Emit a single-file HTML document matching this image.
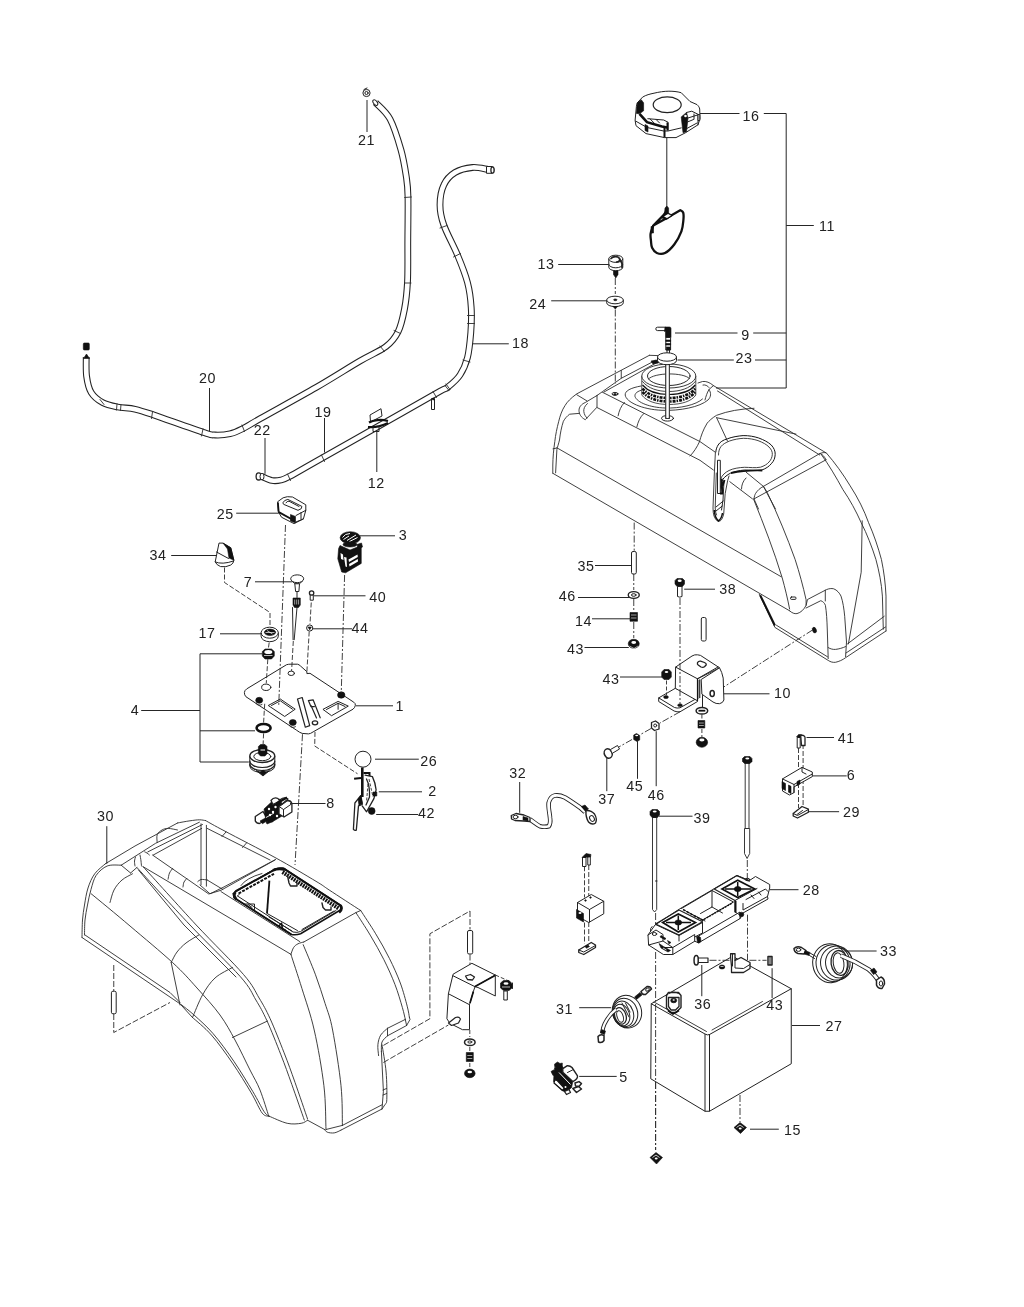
<!DOCTYPE html>
<html lang="en"><head><meta charset="utf-8"><title>Parts diagram</title>
<style>
html,body{margin:0;padding:0;background:#fff;}
body{width:1024px;height:1307px;overflow:hidden;}
svg{display:block;will-change:transform;}
.l{fill:none;stroke:#222;stroke-width:1;stroke-linecap:round;stroke-linejoin:round;}
.t{fill:none;stroke:#2b2b2b;stroke-width:.9;stroke-linecap:round;stroke-linejoin:round;}
.d{fill:none;stroke:#2b2b2b;stroke-width:.9;stroke-dasharray:7 2 2 2;}
.k{fill:#111;stroke:#111;stroke-width:.6;}
.w{fill:#fff;stroke:#222;stroke-width:1;stroke-linejoin:round;}
.ld{fill:none;stroke:#262626;stroke-width:1;}
text{font-family:"Liberation Sans",sans-serif;font-size:14.3px;letter-spacing:.55px;fill:#222;}
</style></head><body>
<svg width="1024" height="1307" viewBox="0 0 1024 1307">
<!-- 10_hoses.svg -->
<g id="hoses">
<path d="M375.5 102.5C377.9 105.2 385.8 111.1 390.0 119.0C394.2 126.9 398.2 140.2 401.0 150.0C403.8 159.8 405.3 170.2 406.5 178.0C407.7 185.8 407.8 186.7 408.0 197.0C408.2 207.3 407.9 225.8 407.8 240.0C407.7 254.2 408.1 270.5 407.5 282.0C406.9 293.5 406.1 300.7 404.5 309.0C402.9 317.3 401.1 325.8 398.0 332.0C394.9 338.2 392.3 341.7 386.0 346.5C379.7 351.3 371.7 354.2 360.0 361.0C348.3 367.8 332.7 377.9 316.0 387.5C299.3 397.1 272.2 411.9 260.0 418.8C247.8 425.7 247.5 426.3 242.5 428.8C237.5 431.3 234.6 432.8 230.0 433.8C225.4 434.8 219.4 435.2 215.0 435.0C210.6 434.8 214.0 435.8 203.8 432.5C193.5 429.2 165.2 418.9 153.8 415.0C142.3 411.1 141.0 410.6 135.0 409.2C129.0 407.9 122.9 408.1 117.5 407.0C112.1 405.9 106.9 404.9 102.5 402.5C98.1 400.1 93.9 396.9 91.2 392.5C88.6 388.1 87.4 382.2 86.6 376.2C85.8 370.3 86.3 360.2 86.2 357.0" fill="none" stroke="#222" stroke-width="6.8" stroke-linecap="butt"/><path d="M375.5 102.5C377.9 105.2 385.8 111.1 390.0 119.0C394.2 126.9 398.2 140.2 401.0 150.0C403.8 159.8 405.3 170.2 406.5 178.0C407.7 185.8 407.8 186.7 408.0 197.0C408.2 207.3 407.9 225.8 407.8 240.0C407.7 254.2 408.1 270.5 407.5 282.0C406.9 293.5 406.1 300.7 404.5 309.0C402.9 317.3 401.1 325.8 398.0 332.0C394.9 338.2 392.3 341.7 386.0 346.5C379.7 351.3 371.7 354.2 360.0 361.0C348.3 367.8 332.7 377.9 316.0 387.5C299.3 397.1 272.2 411.9 260.0 418.8C247.8 425.7 247.5 426.3 242.5 428.8C237.5 431.3 234.6 432.8 230.0 433.8C225.4 434.8 219.4 435.2 215.0 435.0C210.6 434.8 214.0 435.8 203.8 432.5C193.5 429.2 165.2 418.9 153.8 415.0C142.3 411.1 141.0 410.6 135.0 409.2C129.0 407.9 122.9 408.1 117.5 407.0C112.1 405.9 106.9 404.9 102.5 402.5C98.1 400.1 93.9 396.9 91.2 392.5C88.6 388.1 87.4 382.2 86.6 376.2C85.8 370.3 86.3 360.2 86.2 357.0" fill="none" stroke="#fff" stroke-width="4.7" stroke-linecap="butt"/>
<path d="M488.0 169.5C485.4 169.2 478.0 167.0 472.5 167.5C467.0 168.0 459.8 169.6 455.0 172.5C450.2 175.4 446.2 179.6 443.8 185.0C441.2 190.4 440.0 198.3 440.0 205.0C440.0 211.7 440.8 216.7 443.8 225.0C446.7 233.3 453.5 245.4 457.5 255.0C461.5 264.6 465.2 273.8 467.5 282.5C469.8 291.2 470.7 299.2 471.2 307.5C471.8 315.8 471.4 324.2 470.8 332.5C470.1 340.8 469.3 350.4 467.5 357.5C465.7 364.6 463.2 370.1 460.0 375.0C456.8 379.9 451.3 384.3 448.0 387.0C444.7 389.7 448.0 386.8 440.0 391.2C432.0 395.8 420.7 402.3 400.0 414.0C379.3 425.7 334.3 451.1 316.0 461.5C297.7 471.9 295.8 473.2 290.0 476.2C284.2 479.3 284.0 479.3 281.0 480.0C278.0 480.7 275.2 481.1 272.0 480.5C268.8 479.9 263.7 477.2 262.0 476.5" fill="none" stroke="#222" stroke-width="6.8" stroke-linecap="butt"/><path d="M488.0 169.5C485.4 169.2 478.0 167.0 472.5 167.5C467.0 168.0 459.8 169.6 455.0 172.5C450.2 175.4 446.2 179.6 443.8 185.0C441.2 190.4 440.0 198.3 440.0 205.0C440.0 211.7 440.8 216.7 443.8 225.0C446.7 233.3 453.5 245.4 457.5 255.0C461.5 264.6 465.2 273.8 467.5 282.5C469.8 291.2 470.7 299.2 471.2 307.5C471.8 315.8 471.4 324.2 470.8 332.5C470.1 340.8 469.3 350.4 467.5 357.5C465.7 364.6 463.2 370.1 460.0 375.0C456.8 379.9 451.3 384.3 448.0 387.0C444.7 389.7 448.0 386.8 440.0 391.2C432.0 395.8 420.7 402.3 400.0 414.0C379.3 425.7 334.3 451.1 316.0 461.5C297.7 471.9 295.8 473.2 290.0 476.2C284.2 479.3 284.0 479.3 281.0 480.0C278.0 480.7 275.2 481.1 272.0 480.5C268.8 479.9 263.7 477.2 262.0 476.5" fill="none" stroke="#fff" stroke-width="4.7" stroke-linecap="butt"/>
<path class="t" d="M404.6 197.5L411.4 197.0M404.4 283.0L411.0 283.0M394.0 330.5L400.5 333.5M380.0 346.0L384.5 351.5M440.0 228.0L447.0 225.5M453.5 257.0L460.5 253.5M467.5 315.5L474.5 315.5M467.5 323.5L474.5 323.5M463.0 360.0L470.0 362.0M445.0 385.5L449.0 390.5M242.0 425.0L244.5 431.5M203.0 429.0L201.5 436.0M152.5 412.0L151.5 418.5M117.0 404.0L116.5 410.0M121.0 404.5L120.5 410.5M100.0 399.5L104.0 404.5M321.5 455.0L324.5 461.5M287.5 474.0L290.5 480.5M433.0 391.5L436.5 397.5M446.0 384.0L450.0 389.5"/>
<ellipse cx="375.3" cy="102.6" rx="1.8" ry="3.2" transform="rotate(-40 375.3 102.6)" class="w"/>
<circle cx="366.5" cy="93" r="3.6" class="w"/><circle cx="366.5" cy="93" r="1.6" class="l"/><path class="l" d="M364 89.5l3-1.5"/>
<path class="w" d="M486.5 166.5h5.5a2 3.4 0 0 1 0 6.8h-5.5z"/><ellipse cx="492.5" cy="170" rx="1.6" ry="3.2" class="w" style="stroke-width:1.3"/>
<rect x="83.3" y="343" width="6" height="7" rx="1" class="k"/><path class="k" d="M83.5 358.5l3-4.5 3 4.5z"/>
<ellipse cx="258.7" cy="476.4" rx="2.6" ry="3.6" class="w" style="stroke-width:1.3"/><ellipse cx="262" cy="476.6" rx="2" ry="3.3" class="w"/>
<path class="w" d="M370 415l11-6.3 1 7.3-11.5 6z"/>
<path d="M369 422.5c4-2.5 12-3.5 19-1.5M368 427c6 .5 14-1 20-4" fill="none" stroke="#111" stroke-width="2.2"/>
<path class="l" d="M373 427v4.5h6v-5"/>
<path class="w" d="M431.5 398.5v11h3v-11z"/><circle cx="433.2" cy="399" r="1" class="k"/>
</g>
<!-- 20_cap.svg -->
<g id="cap16">
<path class="w" d="M637.3 102.800L642.600 97.100C646 95 650 94 654 93.200C659 92 664 91.200 668.900 91.200C673 91.200 677 91.500 681.200 92.700L690 101.500L697 104.600C698.500 106 699.500 107.500 699.700 109L700 118.700L698 124.800L685.600 132.700L676 137.600H664.500L646 133.600L636 125.700L635.100 120.400L636.400 106.400z"/>
<path class="l" d="M635.500 121L647 127.500L663.700 131H668L681.200 127.900M685 129.500L697 123"/>
<ellipse cx="667.200" cy="104.800" rx="14" ry="7.900" class="l" style="stroke-width:1.200"/>
<path class="k" d="M637.300 102.800L641.300 99.800L643.600 102.800V110.800L639.500 113.800L636.400 113.400z"/>
<path d="M639.500 113.800L647 122.200L662 126.600L667.200 127.500" fill="none" stroke="#111" stroke-width="2.600"/>
<path class="l" d="M647.800 118.700L663.700 120L668 122.200V130.100M650 118.900l4 4M656 119.400l3.500 3.500"/>
<path d="M664.500 127v10.500M667.500 122.500v8" fill="none" stroke="#111" stroke-width="2"/>
<path class="k" d="M645 124.500l3 1.500v6l-3-1.500z"/>
<path class="k" d="M681.200 116.900L686.500 112.500L688 118L686.500 131.800L683 132.700z"/>
<path class="l" d="M686.500 112.500L691.800 111.200L698 114.300V124.800M688 118L697.500 115M687.500 122l6-2.500M694 114v5"/>
<circle cx="685.500" cy="116" r="1.300" fill="#fff"/>
<path class="w" d="M698 114.500h1.800v6h-1.800z"/>
<path class="ld" d="M666.800 137.500V208"/>
<!-- gasket -->
<path d="M653.3 225.5C652.8 226.9 651.0 231.1 650.6 233.7C650.2 236.3 650.8 238.7 651.0 241.0C651.2 243.3 651.1 245.7 652.1 247.7C653.1 249.7 654.6 252.1 656.8 253.0C658.9 253.9 662.1 254.5 665.0 253.0C667.9 251.5 671.7 247.8 674.4 244.2C677.1 240.6 679.9 235.3 681.4 231.3C682.9 227.3 683.1 223.1 683.4 220.0C683.7 216.9 683.7 214.2 683.2 212.6C682.7 211.0 680.7 210.6 680.2 210.2L672 214.900L666 218.500L653.300 225.500L663.800 214.900L666 211.500" fill="none" stroke="#111" stroke-width="2.300" stroke-linejoin="round"/>
<path class="k" d="M665 208l1.800-2 1.800 2v5l4 2.500-6 4-5-1.500 3-5z"/>
<path d="M664 216.500l4-2.500 3 1.500-4 2.500z" fill="#fff"/>
<path class="k" d="M651 226.500h2.500v6.500h-2.500z"/>
</g>
<g id="p13">
<path class="w" d="M608.800 258.800v8.400a7 3.500 0 0 0 14 0v-8.400z"/>
<ellipse cx="615.800" cy="258.800" rx="7" ry="3.600" class="w"/>
<path d="M611 258.500c2-2.500 7-2.500 8.500 0c1 2-1 3.500-3 3.500M619.500 258.500l2.500 5v4" class="l" style="stroke-width:1.700"/>
<path class="l" d="M608.800 264.500a7 3.300 0 0 0 14 0"/>
<path class="k" d="M613.500 271h4.500v3.500l-2.200 3.500-2.300-3.500z"/>
</g>
<g id="p24">
<path class="w" d="M606.700 300v2.800a8.300 3.800 0 0 0 16.600 0v-2.800z"/>
<ellipse cx="615" cy="300" rx="8.300" ry="3.800" class="w"/>
<ellipse cx="615.300" cy="299.800" rx="1.700" ry=".9" class="k"/>
<path class="k" d="M613 306.500h4.500l-2.200 2.500z"/>
<path class="d" d="M615.300 278v16M615.300 309.500V384"/>
</g>
<g id="p9">
<path class="w" d="M657.500 327.200h8v3.400h-8a1.700 1.700 0 0 1 0-3.400z"/>
<path class="k" d="M665 327h4.500a1.500 1.500 0 0 1 1.500 1.500v9h-5.500v-6h-1z"/>
<path class="w" d="M665.800 337.500h4.800v12.500h-4.800z"/>
<path class="k" d="M665.800 340h4.800v1.500h-4.800zM665.800 343.500h4.800v1.500h-4.800zM666.300 347h3.800v3h-3.800z"/>
<path class="l" d="M667 350v5.500M669.500 350v5.500"/>
</g>

<!-- 30_tank.svg -->
<g id="tank">
<!-- left end / ridge -->
<path class="t" d="M649.400 355.300L576.700 393.900C571 398 567 402 565 405.600C562 410 560 416 558.750 421.250C557 428 555.500 435 554.800 441.600C553.500 450 552.900 458 552.800 465V473.400"/>
<path class="t" d="M649.400 355.300L658 355.600"/>
<path class="t" d="M655.600 360.300L621.250 378.300V370.500M621.250 378.300L602.500 391.600L597 395.500"/>
<path class="t" d="M656.400 362.800L604 392"/>
<path class="t" d="M597 395.500V407.200L585.300 419.700C581 417.500 579 414 579 410.300C579 407 581.500 404 585.300 402.500L597 395.500M586.900 400.900L576.700 394.700"/>
<path class="t" d="M587.500 403.500C584.500 406 583.500 409 583.800 411.500C584.200 414.500 585.500 416.500 587 418"/>
<path class="t" d="M579 413.400L569.700 414.200C567 416 565 418.500 563.400 421.250C561.500 427 560.300 433 559.500 440C558.500 444 557.500 447 556.900 449.400L555.600 472.800"/>
<path class="t" d="M553 448.800L556.900 448"/>
<!-- belt + bottom -->
<path class="t" d="M556.900 447.800L781.300 576.800"/>
<path class="t" d="M553 473.400L789.600 610.800"/>
<!-- top surface long lines -->
<path class="t" d="M602.500 392.300L700 441.600L715 452"/>
<path class="t" d="M597 407.500L700 460.300L713.400 470"/>
<path class="t" d="M624.400 402.500C621 406 619 411 618.100 415.800M643.900 413.400C640 417 638 422 636.900 426.700"/>
<ellipse cx="615" cy="393.900" rx="3" ry="1.500" class="t" style="stroke:#111"/>
<ellipse cx="615" cy="394.300" rx="1.400" ry=".7" class="k"/>
<!-- filler neck flange rings -->
<path class="t" d="M641 386C630 388 625 391 625.200 395C626 402 642 409.500 662 410.300C680 411 700 407 708 400C711 397 711.500 393 709 389.500"/>
<path class="t" d="M644 389.500C637 391 634.500 393.500 635 396.500C637 402.500 650 407.500 665 408C680 408.500 696 405 702.500 399"/>
<path class="t" d="M698 383L702.500 381.500C706 381 710 382.500 713.400 385.600L709 389.500C707 393 706 396 705 400"/>
<path class="t" d="M703 385C705 384.500 707.500 385.500 709 387.500"/>
<!-- neck -->
<path class="w" style="stroke-width:.8;stroke:#222" d="M641.800 376V395C646 401 656 404.500 668.800 404.500C682 404.500 692 401 695.800 395V376z"/>
<path d="M642.500 388.500C648 395 658 398 668.800 398C680 398 690 395 695.300 388.500M642.500 392C648 398.500 658 401.500 668.800 401.500C680 401.500 690 398.500 695.300 392" fill="none" stroke="#111" stroke-width="2.600" stroke-dasharray="3 1 1.500 1"/>
<path d="M642.500 385C648 391.500 658 394.500 668.800 394.500C680 394.500 690 391.500 695.300 385" fill="none" stroke="#111" stroke-width="1.200"/>
<ellipse cx="668.800" cy="376" rx="27" ry="12" class="w" style="stroke-width:.9"/>
<ellipse cx="668.800" cy="376" rx="21.300" ry="9.500" class="t" style="stroke:#111"/>
<path class="t" d="M648.500 379C654 372.500 683 372 689.500 378.500"/>
<path class="t" d="M642.500 381.500C648 388.500 658 391.500 668.800 391.500C680 391.500 690 388.500 695.300 381.500"/>
<!-- rod + grommet 23 -->
<path class="w" style="stroke-width:.9" d="M665.800 363V418.500H669.300V363z"/>
<ellipse cx="667.500" cy="418.300" rx="6" ry="2.800" class="t" style="stroke:#111"/>
<path class="w" d="M665.800 364V417.500H669.300V364z" style="stroke:none"/>
<path class="l" d="M665.800 363V418.500M669.300 363V418.500" style="stroke-width:.9"/>
<path class="w" d="M657.500 357v3.500a9.500 4.200 0 0 0 19 0V357z"/>
<ellipse cx="667" cy="357" rx="9.500" ry="4.200" class="w"/>
<path class="k" d="M651 361l6-1 1.500 3-5.500 1z"/>
<!-- back right top edge -->
<path class="t" d="M713.400 385.600L826 452.800M717.500 391L819.700 455"/>
<!-- saddle curve -->
<path class="t" d="M754 408.300C740 409 728 411 716.600 415.300C712 418 709 421 707.200 423.100C703 430 701 436 699.400 441.900C697 447 694 452 690 456"/>
<path class="t" d="M716.600 417.700L796 434.100M716.600 417.700L727.500 441.100"/>
<!-- cup recess -->
<path class="t" style="stroke:#111;stroke-width:1" d="M715.800 452C716 449 717 447 718.100 445C720 442 723 440 727.500 438.750C732 437 738 436 743.100 435.600C749 435.500 754 436.500 758.750 438C764 440 768 442 771.250 445C774 448 775.300 451 775.200 454.400C775 458 774 461 771.250 463.750C769 466.500 766 468.500 761.900 470C756 471 750 470 744.700 470C739 470.500 734 471.500 730.600 473.100C727 475 724.500 477 722.800 479.400C721 483 720 488 719.700 493.400"/>
<path class="t" d="M718.500 455C718.500 451 719.500 448.500 721 446.500C723 444 726 442.500 729.500 441C734 439.500 739 438.500 743.500 438.300C749 438.300 754 439.300 758 440.600C763 442.500 766.500 444.500 769 447C771.500 449.500 772.500 452 772.300 454.600C772 457.500 771 460 769 462C767 464.500 764 466 760.500 467.200C755 468.200 750 467.300 744.500 467.300C739 467.500 733 468.500 729 470.500C725 472.500 722.500 475 721 478"/>
<!-- hook below cup -->
<path class="t" d="M715.400 452.500L714.400 472L713 508Q713 513 714 516Q715.500 520.500 718.300 521.300Q720.500 521.300 721.700 519.400Q723 517 723.700 514L725.200 493.500L727.600 480.800L729 476"/>
<path class="t" d="M716.300 473L715.200 508Q715.500 513 716.500 515"/>
<path class="w" style="stroke-width:1" d="M717.500 460.300H720.300V493.500H717.500z"/>
<path d="M721.500 478.500L722.300 493.500M720 493.500H723M722.500 486L724.500 480" fill="none" stroke="#111" stroke-width="2"/>
<path class="t" style="stroke:#111" d="M724 481L723 500L721.500 510M716 507L723.300 501M716 511L722.300 506"/>
<path d="M731 473Q745 470 762.300 470.500" fill="none" stroke="#111" stroke-width="1.800"/>
<path d="M714.300 510Q714.500 517 718.300 521Q721.500 519 722.500 513" fill="none" stroke="#111" stroke-width="1.500"/>
<!-- front right shoulder -->
<path class="t" d="M763.400 486.400L819.700 453.600M754 498.900L826 459.800"/>
<path class="t" d="M754 498.900C754.300 496 755 494.500 755.600 493.400C757.500 490.500 760 488 763.400 486.400"/>
<path class="t" d="M729.800 481.700L752.500 498.900M746.250 472.300L763.400 486.400M741.500 489C741.500 485 743 481 746 478"/>
<!-- right outer curves -->
<path class="t" d="M819.700 453.600C822 452.500 824.500 452.300 826.300 452.900C835 463 843 474 850.200 485.900C858 498 864 510 868.600 522.700C874 535 878 547 881.400 559.400C884 572 885.500 584 886 596.100V631"/>
<path class="t" d="M820.800 453.800C829 465 836 477 842.900 489.600C850 500 856 511 861.200 522.700C867 534 872 547 875.900 559.400C879 571 881.500 583 882.400 596.100L883.300 629.200"/>
<path class="t" d="M826 459.800C824.500 456.500 822.500 454.500 820.800 453.800"/>
<!-- front-left edge going down -->
<path class="t" d="M753.800 499.700C764 525 774 551 782.200 577.800C785 588 787.500 598 789.600 609"/>
<path class="t" d="M763.400 486.400C765 488.500 766.500 491 767.600 493.300C778 515 787 537 795.100 559.400C799.500 573 803 586 806.100 599.800V605.300"/>
<path class="t" d="M754 498.900L758.500 509M763.400 486.400L775.500 509"/>
<!-- bottom front -->
<path class="t" d="M789.600 610.800C792 613 794.500 614 797 613.600C801 612.500 804 609.500 806.100 605.300L807.500 599.500L826.300 589.700C829 588.500 831.500 588.300 833.700 588.800C837 590 839.500 593 841 596.100C843 602 844 609 844.700 616.300L846.500 642L845.600 656.700"/>
<path class="t" d="M806.100 608L820.800 600.700C823 601.500 824.500 603 825.400 605.300C826.500 612 827 620 827.300 630L828.200 658.600"/>
<path class="t" d="M825.300 590.200V601"/>
<path class="t" d="M759.300 594.300L774.900 627.400L828.200 660.400C830.500 662 833 662.600 835.500 662.300C839 661.500 842.500 660 845.600 657.700L886 631"/>
<path class="t" d="M776.500 625.300L827.500 656.800M847.500 643.900L884.200 616.300M846 653L885.500 627"/>
<path d="M760.200 595.200L774.900 625.500" fill="none" stroke="#111" stroke-width="2"/>
<path class="t" d="M862.200 520.800L861.200 572.200L848.400 643.900"/>
<path class="t" d="M828.200 647.600C830.500 649 833 649.600 835.500 649.400C839 649 842.500 648 845.600 646.600"/>
<rect x="790.500" y="597" width="5.500" height="2.400" rx="1" class="t" style="stroke:#111"/>
<ellipse cx="814.400" cy="630.100" rx="1.900" ry="2.900" class="k" transform="rotate(-20 814.400 630.100)"/>
</g>

<!-- 40_plate.svg -->
<g id="plate1">
<path class="w" d="M246.700 688.900L286.600 664.700Q288.500 664.200 290 664.200H297.500Q299 664.500 300.500 666L306.900 671.700V673.600L310 673.300L353.750 702.200Q355.800 703.500 355.300 705.500Q355 707.500 353 709.200L313.100 731.900Q310.500 733.800 308.400 733.900L302.200 733.400Q299.500 732.500 296.700 730.300L245.900 696.700Q244.300 695 244.400 692.500Q244.500 690.500 246.700 688.900z"/>
<ellipse cx="266.250" cy="687.300" rx="4.600" ry="3.200" class="l"/>
<ellipse cx="291.250" cy="673.300" rx="3.200" ry="2.200" class="l"/>
<path class="l" d="M268.600 705.300L280.300 699L295.200 709.200L285 716.250zM271.500 705.500L280.300 700.800L292.500 709.200"/>
<path class="l" d="M323.300 709.200L338.100 701.400L348.300 706.100L331.900 715.500zM326.500 709.500L338.100 703.300L345 706.500M338.100 703.300v6"/>
<path class="l" d="M297.500 699L302.200 697.500L309.700 725.600L305.300 727.200z" style="stroke-width:1.200"/>
<path class="l" d="M308.400 700.600L313.100 699.800L320.200 717.800M311 705.500l5.500 12.500M308.400 700.600l2.500 6h3.500" style="stroke-width:1.200"/>
<ellipse cx="315" cy="722.800" rx="2.700" ry="2" class="l" style="stroke-width:1.300"/>
<ellipse cx="259.200" cy="700.300" rx="3.500" ry="3" class="k"/><path class="t" d="M256 703.500a3.500 2 0 0 0 6 1"/>
<ellipse cx="292.800" cy="722.500" rx="3.500" ry="3" class="k"/><path class="t" d="M289.500 725.700a3.500 2 0 0 0 6 1"/>
<ellipse cx="341.250" cy="695" rx="3.700" ry="3.200" class="k"/>
</g>
<g id="p25">
<path class="w" d="M277.700 501.700L283.100 497.800Q287 496 292.500 497L305.800 504.800V510.300L303.400 518.900L294 523.600L281.600 517.300L278.400 511.900z"/>
<path d="M277.900 502.500L278.600 511.500M278.400 511.900L294 520.500" fill="none" stroke="#111" stroke-width="1.800"/>
<path class="k" d="M290.500 514.500L295.500 516.500V523L290.500 521z"/>
<path class="l" d="M283 502.500Q284 500 287.800 499.400L301.900 506.400Q302.500 509 298 510.300L284 504.500zM286 502.800Q287 501 289 501.200L299 506.500"/>
<path class="l" d="M305.800 510.300L296 515.500M303.400 518.900L296 522M301 512.500v6.500"/>
<path class="d" d="M285.500 525L278.750 705.300"/>
</g>
<g id="p34">
<path class="w" d="M219 543.100L223 543.100L230.800 547.800L233.900 560.300Q233.500 563.500 230.800 565Q226 567.500 220.600 566.600Q216.500 565 215.200 561.900z"/>
<path class="k" d="M223 543.100L230.800 547.800L233.900 560.300L229 558L227.500 549z"/>
<path class="l" d="M216.500 552L228.500 558.500M215.200 561.900Q222 565 233.500 561"/>
<path class="d" d="M224.500 567.500V582.500L270 612.500V625" style="stroke-dasharray:5 2"/>
</g>
<g id="p7">
<path class="w" d="M291.500 580.500L294.800 583.750H299.500L303 580.500z"/>
<ellipse cx="297.200" cy="578.750" rx="6.500" ry="3.900" class="w"/>
<path class="w" d="M294.800 583.750L295.600 591.500H298.900L299.500 583.750z"/>
<path class="l" d="M297 591.500V597.500"/>
<path class="k" d="M293 598H300.300V605L298.500 607.500H294.500L293 605z"/>
<path d="M294.700 599.500v5M296.700 599.500v5M298.600 599.500v5" stroke="#fff" stroke-width=".6"/>
<path class="t" style="stroke:#111" d="M292.500 607.500L293.100 639.700M297 607.500L294.200 639.700"/>
<path class="d" d="M293.300 641L291.600 671" style="stroke-dasharray:5 2"/>
</g>
<g id="p40_44">
<circle cx="311.600" cy="593" r="2.200" class="w" style="stroke-width:1.300"/>
<path class="w" d="M310.200 595.200H313.300V600.200H310.200z"/>
<path class="d" d="M311.250 602.500L310 624M309.200 631.500L306.900 671.700" style="stroke-dasharray:5 2"/>
<circle cx="309.700" cy="628" r="3.100" class="w"/><path class="k" d="M308 627h3.400l-1.700 2.800z"/>
</g>
<g id="p3">
<path class="k" d="M338.600 548.600L340 545.500L350 550L361.250 545.500V563.400L345.600 572.800L341.700 572L337.800 558.750z"/>
<path d="M344 557L345.500 566.500L347 567L346.500 557.500zM348.500 559.500L357.500 554.500L357.800 557L349 562zM349 564L357.800 559L358 561.500L349.500 566.500zM340.500 553L343 554.500L343.500 560L341 559z" fill="#fff"/>
<path class="k" d="M357 544.500L361.500 543L362.500 547L358 549z"/>
<ellipse cx="350.300" cy="537.700" rx="10.200" ry="6" class="k"/>
<path d="M342.500 537.500Q345 533.500 350 533.500M347 540.500L356 535M349.500 541.500L357.500 537.500M343.500 539.500L349 536" stroke="#fff" stroke-width="1" fill="none"/>
<ellipse cx="350" cy="544.500" rx="7" ry="2.500" class="k"/>
<path class="d" d="M344.600 575L341.250 692.800"/>
</g>
<g id="p17_4">
<path class="w" d="M261.100 632.700V636.200A8.600 5.500 0 0 0 278.300 636.200V632.700z"/>
<ellipse cx="269.700" cy="632.700" rx="8.600" ry="5.500" class="w"/>
<ellipse cx="270" cy="632.300" rx="5.600" ry="3.200" class="k"/>
<path d="M265.500 632.500h9M267 630.500l5.500 3.500" stroke="#fff" stroke-width=".7"/>
<path class="d" d="M269.200 642.500L268.500 647.500M267.800 659.200L266.250 683.400" style="stroke-dasharray:5 2"/>
<path class="k" d="M262.300 651.500L265 649H271.500L274.300 651.500V656L271.500 659H265L262.300 656z"/>
<ellipse cx="268.300" cy="652" rx="4" ry="2" fill="#fff"/>
<path d="M264 655.500h8.500" stroke="#fff" stroke-width=".7"/>
<path class="d" d="M264.700 703.750L263.600 722.500M263.600 733.400L263.100 744.400" style="stroke-dasharray:5 2"/>
<ellipse cx="263.600" cy="728" rx="7" ry="4" fill="#fff" stroke="#111" stroke-width="2.600"/>
<!-- switch body -->
<path class="w" d="M249.800 756V766A12.500 6.500 0 0 0 274.800 766V756z"/>
<path class="l" d="M249.800 761A12.500 6.500 0 0 0 274.800 761M249.800 764A12.500 6.500 0 0 0 274.800 764" style="stroke-width:1.200"/>
<ellipse cx="262.300" cy="756" rx="12.500" ry="6.500" class="w" style="stroke-width:1.300"/>
<ellipse cx="262.300" cy="756.500" rx="8.500" ry="4.200" class="l"/>
<path class="k" d="M258.400 746.500L260.500 744.500H265L267 746.500V753.750L265 756H260.500L258.400 753.750z"/>
<path d="M260.500 750h4.500" stroke="#fff" stroke-width="1"/>
<path class="k" d="M256 770.500L263 776L269.500 770.500L266 772L263 770L260 772z"/>
<path class="l" d="M258 771.500L263 775.600L268 771.500"/>
</g>
<g id="p26_2_42">
<path class="d" d="M302.500 734.200L298.750 800L295 865"/>
<path class="d" d="M315 731.900L314.700 746L357.500 773.750" style="stroke-dasharray:5 2"/>
<circle cx="363" cy="759.200" r="8" class="w"/>
<path d="M362.300 767.500V797" stroke="#111" stroke-width="2.600" fill="none"/>
<path d="M354.100 778.800L361 778M363.500 773H369.500V776" stroke="#111" stroke-width="2" fill="none"/>
<path class="l" d="M365.100 775.200L372.400 776.600Q375.500 783 376.100 789.800L373.900 798.600L366.600 811.800L362.200 805.900M366.500 779Q370 786 369.500 797L366 805" style="stroke-width:1.300"/>
<path class="d" d="M369 779L373 797M368 784l-1.500 18" style="stroke-dasharray:3 1.500"/>
<path class="k" d="M373 792h3.800v4H373z"/>
<path class="w" d="M360.700 795.700L354.900 803L353.400 829.400Q354.800 831 356.300 830.100L358.500 805.900L362.200 804.500z" style="stroke-width:1.300"/>
<path class="k" d="M358 799l3-3.500 1.500 8-3.500 2z"/>
<circle cx="371.700" cy="811" r="3.400" class="k"/>
</g>
<g id="p8">
<path class="w" d="M255.300 816.500L263 811.500L267.500 819L259.500 823.500Q256.500 823.500 255.300 821z" style="stroke-width:1.400"/>
<path class="k" d="M264 809L272 801.500L280 799L284 803L282 816L272 822L266 821.500z"/>
<path class="k" d="M260 821l5.500-3 2 2.500-5 3.200zM266 822l6-2.500 1 2-6 2.500z"/>
<path class="w" d="M279 806.500L287.500 800.500Q291 800.500 291.900 803.500V812L284 817L279 814z" style="stroke-width:1.300"/>
<path class="l" d="M279 806.500L283.500 809.500L291.500 804M283.500 809.500V816.500"/>
<path class="w" d="M271 800.500Q274 796.500 278 798.500L279.500 801L273 804.500z" style="stroke-width:1.300"/>
<path class="w" d="M280.500 799.500Q284 796.500 288 799L281.500 804.500z" style="stroke-width:1.300"/>
<path d="M276.500 803.500L287 797.500" stroke="#111" stroke-width="2.200"/>
<circle cx="269" cy="809" r="1.200" fill="#fff"/><circle cx="273" cy="812" r="1.200" fill="#fff"/><circle cx="270" cy="815" r="1.200" fill="#fff"/><circle cx="275.500" cy="807" r="1.200" fill="#fff"/><circle cx="277" cy="816" r="1.200" fill="#fff"/>
<path d="M266 817.500l8 -4.500" stroke="#fff" stroke-width=".9"/>
</g>

<!-- 50_fender.svg -->
<g id="fender">
<path class="t" d="M105.6 863.6L135.0 846.0L177.5 823.0M121.2 865.2L155.6 843.3L199.4 822.2M147.8 851.9L202.5 824.5M153.3 855.0L201.7 828.4M201.0 823.8L201.0 884.7M206.4 825.3L206.4 886.2M207.2 828.4L270.0 860.0M226.0 832.0L222.0 836.5M246.5 843.0L242.5 847.5M152.5 855.0L208.8 894.0L221.2 890.2L275.0 860.0M143.1 866.7L290.9 954.3M207.2 880.0L222.8 889.4M275.6 859.5L224.0 886.9L210.0 893.8L200.0 885.0M275.0 868.8L232.5 893.8M171.2 962.5L180.0 1005.0M267.5 1021.0L232.5 1037.5M82.0 937.5L180.0 1003.8L192.5 1017.5M85.0 935.0L170.0 992.5L180.0 1002.5M138.5 870.0L184.0 925.0L236.0 977.0M130.6 873.0L136.9 867.5M121.2 865.2L130.6 873.0M307.5 1120.2L324.6 1129.5M221.0 891.6L299.8 941.6M303.8 942.0L355.9 912.6L360.7 910.5M409.4 1017.3L410.0 1019.5L406.6 1025.5M405.3 1019.4L387.5 1028.3M406.6 1025.5L387.5 1035.8M381.4 1051.5L383.4 1091.2L382.0 1109.0M387.5 1028.3L387.5 1035.8M405.3 1019.4L406.6 1025.5M382.0 1104.8L342.4 1125.4M382.0 1109.0L341.0 1130.1M383.0 1090.0L386.5 1088.5M383.0 1095.0L386.7 1093.5M326.0 1129.5L342.4 1125.4M177.5 823.0C179.6 822.6 186.3 821.3 190.0 820.8C193.7 820.3 196.8 819.8 199.4 819.8C202.0 819.8 204.6 820.5 205.6 820.6M157.2 842.5C157.2 841.2 156.4 836.8 157.2 834.7C158.0 832.6 160.2 831.0 162.0 830.0C163.8 829.0 165.5 828.4 168.1 828.4C170.7 828.4 175.9 829.7 177.5 830.0M205.6 820.6C208.8 822.4 213.4 825.1 225.0 831.2C236.6 837.4 259.8 849.2 275.0 857.5C290.2 865.8 307.0 875.9 316.0 881.3C325.0 886.7 321.8 885.1 329.2 890.0C336.6 894.9 355.4 907.1 360.7 910.5M197.8 881.6C198.3 881.2 199.4 879.8 201.0 879.5C202.6 879.2 206.2 879.9 207.2 880.0M172.8 868.3C172.2 869.1 170.3 871.2 169.5 873.0C168.7 874.8 168.3 878.2 168.1 879.2M186.9 878.4C186.4 879.0 184.7 880.6 184.0 882.0C183.3 883.4 183.2 886.2 183.0 887.0M105.6 863.6C103.8 865.3 97.6 869.7 94.7 873.8C91.8 877.8 89.7 882.8 88.0 888.0C86.3 893.2 85.4 899.7 84.5 905.0C83.6 910.3 82.9 914.6 82.5 920.0C82.1 925.4 82.1 934.6 82.0 937.5M121.2 865.2C118.9 865.3 111.4 864.3 107.2 866.0C103.0 867.7 99.0 871.4 96.2 875.3C93.5 879.2 92.5 884.4 91.0 889.4C89.5 894.4 88.5 899.9 87.5 905.0C86.5 910.1 85.5 915.0 85.0 920.0C84.5 925.0 84.6 932.5 84.5 935.0M132.5 873.8C130.8 874.8 125.1 877.3 122.0 880.0C118.9 882.7 116.0 886.2 114.0 890.0C112.0 893.8 110.7 900.4 110.0 902.5M198.8 935.0C196.6 936.3 189.6 940.2 186.0 943.0C182.4 945.8 179.5 948.8 177.0 952.0C174.5 955.2 172.2 960.8 171.2 962.5M232.5 967.5C229.6 969.2 220.0 973.4 215.0 978.0C210.0 982.6 206.2 988.4 202.5 995.0C198.8 1001.6 194.2 1013.8 192.5 1017.5M91.2 893.8C97.7 899.1 116.5 914.5 130.0 926.0C143.5 937.5 161.3 952.2 172.5 962.5C183.7 972.8 189.1 979.2 197.0 988.0C204.9 996.8 213.7 1006.3 220.0 1015.0C226.3 1023.7 230.0 1030.8 235.0 1040.0C240.0 1049.2 245.8 1061.7 250.0 1070.0C254.2 1078.3 256.9 1082.3 260.0 1090.0C263.1 1097.7 267.3 1111.9 268.8 1116.2M136.9 867.5C145.8 877.1 172.8 906.8 190.0 925.0C207.2 943.2 229.3 964.1 240.3 976.6C251.3 989.1 251.5 992.7 255.9 1000.0C260.3 1007.3 262.6 1011.3 266.8 1020.4C271.0 1029.5 276.7 1044.1 280.9 1054.8C285.1 1065.4 287.9 1073.5 291.8 1084.4C295.7 1095.3 302.2 1114.1 304.3 1120.0M143.1 866.7C152.0 876.4 179.5 907.0 196.2 925.0C213.0 943.0 233.0 962.3 243.5 974.5C254.0 986.7 254.7 990.7 259.1 998.0C263.5 1005.3 265.8 1009.3 270.0 1018.4C274.2 1027.5 279.9 1042.1 284.1 1052.8C288.3 1063.4 291.1 1071.4 295.0 1082.4C298.9 1093.4 305.4 1112.7 307.5 1118.8M135.5 857.0C135.3 857.7 134.6 859.5 134.5 861.0C134.4 862.5 134.9 865.2 135.0 866.0M140.0 855.0C140.2 856.0 140.8 859.2 141.0 861.0C141.2 862.8 141.4 865.2 141.5 866.0M144.7 851.9C145.1 852.1 146.2 852.5 147.0 853.0C147.8 853.5 149.0 854.7 149.4 855.0M192.5 1017.5C195.7 1020.4 204.7 1027.4 211.4 1035.0C218.1 1042.6 225.9 1053.5 232.5 1063.1C239.1 1072.7 246.3 1084.5 251.2 1092.8C256.2 1101.1 259.2 1109.2 262.2 1113.1C265.2 1117.0 268.0 1115.7 269.2 1116.2M181.0 1004.5C183.2 1006.2 188.7 1010.2 194.0 1015.0C199.3 1019.8 206.3 1025.8 213.0 1033.5C219.7 1041.2 227.4 1051.8 234.0 1061.5C240.6 1071.2 247.8 1083.2 252.8 1091.5C257.8 1099.8 261.3 1107.4 264.0 1111.5C266.7 1115.6 268.3 1115.5 269.2 1116.2M269.2 1116.2C272.2 1117.4 281.9 1122.1 287.2 1123.3C292.5 1124.5 297.9 1123.8 301.2 1123.3C304.6 1122.8 306.5 1120.7 307.5 1120.2M290.9 954.3C291.4 953.1 292.5 949.1 293.7 947.4C294.9 945.6 296.3 944.7 298.0 943.8C299.7 942.9 302.8 942.3 303.8 942.0M290.9 954.3C292.7 960.0 298.0 975.8 301.9 988.4C305.8 1001.0 310.5 1013.8 314.2 1030.0C317.9 1046.2 321.9 1069.1 323.9 1085.7C325.9 1102.3 325.6 1122.2 326.0 1129.5M303.2 944.7C305.2 949.7 311.9 965.0 315.5 974.8C319.1 984.6 322.2 994.3 325.1 1003.5C328.0 1012.7 330.0 1016.3 332.6 1030.0C335.2 1043.7 339.4 1069.8 341.0 1085.7C342.6 1101.6 342.2 1118.8 342.4 1125.4M360.7 910.5C363.2 914.4 370.9 925.8 375.7 933.8C380.5 941.7 385.3 950.2 389.4 958.4C393.5 966.6 397.3 975.0 400.3 983.0C403.3 991.0 405.7 1000.5 407.2 1006.2C408.7 1011.9 409.0 1015.4 409.4 1017.3M355.9 912.6C358.3 916.4 365.5 927.2 370.2 935.1C374.9 943.0 379.8 951.5 383.9 959.7C388.0 967.9 391.8 976.3 394.9 984.3C398.0 992.3 400.7 1001.8 402.4 1007.6C404.1 1013.5 404.8 1017.4 405.3 1019.4M387.5 1028.3C386.4 1029.4 382.3 1032.4 380.7 1035.1C379.1 1037.8 378.2 1041.3 377.9 1044.7C377.5 1048.1 378.5 1053.8 378.6 1055.6M387.5 1035.8C386.6 1036.8 383.0 1039.4 382.0 1042.0C381.0 1044.6 381.5 1049.9 381.4 1051.5M382.0 1044.7C382.7 1049.2 385.3 1062.9 386.1 1072.0C386.9 1081.1 387.0 1093.9 386.8 1099.4C386.6 1104.9 385.6 1103.2 384.8 1104.8C384.0 1106.4 382.5 1108.3 382.0 1109.0M341.0 1130.1C339.9 1130.6 336.5 1132.6 334.2 1132.9C331.9 1133.2 328.9 1132.8 327.3 1132.2C325.7 1131.6 325.1 1130.0 324.6 1129.5"/>
<path d="M233.400 893.900L235.800 890.800L275.600 868.900Q279 867.500 283.400 868.100L341.250 905.600V909.500L300.600 933.750Q296 935.500 291.250 934.500L234.200 897.800z" fill="none" stroke="#111" stroke-width="1.500"/>
<path d="M283.400 868.400L341 905.800" fill="none" stroke="#111" stroke-width="2.200"/>
<path d="M282.500 872L338.500 908.300" fill="none" stroke="#111" stroke-width="4" stroke-dasharray="1.800 .9"/>
<path d="M236 891.200L275.600 869.200" fill="none" stroke="#111" stroke-width="1.800"/>
<path d="M238.500 893.500L274 873.800" fill="none" stroke="#111" stroke-width="2" stroke-dasharray="3 1.200"/>
<path d="M273 870.300Q279 867.600 285 869.800" fill="none" stroke="#111" stroke-width="2.800"/>
<path d="M235.500 892Q232.500 896 236.500 899.500M340.500 905.500Q343 909 339 912.500" fill="none" stroke="#111" stroke-width="2.800"/>
<path class="l" d="M237.500 896L239.500 894M237.500 896L293 932Q297 933 300.500 931.500L336 910.500M302 929.500L334 911" />
<path d="M236 899L291.500 934.500" fill="none" stroke="#111" stroke-width="1.600"/>
<path d="M269.400 880.600L267 913.400" fill="none" stroke="#111" stroke-width="1.800"/>
<path class="l" d="M267 913.400L297.500 930.600M269 917L292 931M244.400 904H254.500V909.500M248 904.500l4 3"/>
<path class="l" d="M287.500 875.500L289 883L290.500 886H297V883M322 903L323 907.500L325.500 910H331V907" style="stroke-width:1.400"/>
<path d="M278 926.500l3.500-3 1 5.500 3 1" fill="none" stroke="#111" stroke-width="1.600"/>
<path class="t" d="M241 885.500Q246 878 262 873.500"/>
<path class="d" d="M113.750 965V991M113.750 1014V1032.500L170 1002.500" style="stroke-dasharray:6 2"/>
<rect x="111.400" y="991.250" width="4.800" height="22.500" rx="1.500" class="w"/>
<path class="d" d="M383.400 1045.400L429.900 1018.700V933.750L470 911M383.400 1062.500L448.400 1025" style="stroke-dasharray:6 2"/>
</g>
<!-- 60_hardware.svg -->
<g id="stack35">
<path class="d" d="M634.200 522.600V550.700M633.750 574V590M633.750 599V612M633.750 622V638" style="stroke-dasharray:7 2 2 2"/>
<rect x="631.500" y="551.500" width="4.800" height="22.500" rx="1.500" class="w"/>
<ellipse cx="633.750" cy="595" rx="5.500" ry="3.400" class="w" style="stroke-width:1.400"/><ellipse cx="633.750" cy="595" rx="2.300" ry="1.300" class="l"/>
<path class="k" d="M630 612.500H637.500V621.250H630z"/><path d="M631 615h5.500M631 618h5.500" stroke="#fff" stroke-width=".6"/>
<ellipse cx="633.750" cy="643.750" rx="5.500" ry="4.500" class="k"/><ellipse cx="633.750" cy="642.500" rx="2.400" ry="1.400" fill="#fff"/>
<path d="M629.500 646l4.500 2.500 4-2.500" stroke="#fff" stroke-width=".6" fill="none"/>
</g>
<g id="p38">
<path class="k" d="M675 580.500L677 578.500H682.500L684.500 580.500V584L682.500 586.500H677L675 584z"/>
<ellipse cx="679.700" cy="580.800" rx="2" ry="1.200" fill="#fff"/>
<path class="w" d="M677.500 586.500H682V596.500Q679.700 597.800 677.500 596.500z"/>
<rect x="701.300" y="617.500" width="4.800" height="23.500" rx="1.500" class="w"/>
</g>
<g id="bracket10">
<path class="d" d="M812.500 630L723.900 686.900"/>
<!-- base flange -->
<path class="w" d="M675.300 688.300L658.700 697.900V701.500L674.100 711Q677 712.200 680 711.800L697.500 701.500V696z"/>
<path class="l" d="M658.700 697.900L674.500 707.500Q677 708.500 680 707.800L697.500 698"/>
<ellipse cx="666" cy="697.100" rx="2.400" ry="1.500" class="k"/><ellipse cx="680" cy="705.200" rx="2.400" ry="1.300" class="k"/>
<!-- left face + top -->
<path class="w" d="M675.600 667.100L692 656Q694.600 654.400 697.500 654.800L700.500 655.400L719.500 667.800L697.500 678.800V700.800L675.300 688.300z"/>
<path class="l" d="M675.600 667.100L697.500 678.800"/>
<!-- right curved face -->
<path class="w" d="M701.200 679.500L719.500 667.800Q722 672 723.200 678.100L723.900 700Q723 703 719.500 703.700Q716 704 713 702L701.900 694.200z"/>
<path class="l" d="M697.500 678.800L700.500 677L718 667"/>
<path d="M697.500 678.800V700.800M699.700 679.500V698" stroke="#111" stroke-width="1.200" fill="none"/>
<path d="M698.600 680V699" stroke="#999" stroke-width="1.200"/>
<path class="l" d="M702.500 695.500V707"/>
<ellipse cx="712.200" cy="693.500" rx="2.100" ry="3" class="l" style="stroke-width:1.500"/>
<path class="l" d="M697.500 662.700Q698.500 661 700.500 661.200L704.500 662.500Q706.500 663.500 706.300 664.800L704.500 666.800Q703 667.800 701 667L698.200 665Q697 664 697.500 662.700z" style="stroke-width:1.300"/>
<!-- nut 43 -->
<path class="k" d="M661.700 672L664 669.500H669L671.300 672V677L669 679.500H664L661.700 677z"/><ellipse cx="666.500" cy="672" rx="1.800" ry="1" fill="#fff"/>
<path class="d" d="M666.500 680.500V695" style="stroke-dasharray:4 2"/>
<!-- stack below -->
<ellipse cx="701.900" cy="710.700" rx="5.800" ry="3.300" class="w" style="stroke-width:1.500"/><path d="M698.500 710.700h6.800" stroke="#111" stroke-width="1.800"/>
<path class="k" d="M698 720.500H704.800V728H698z"/><path d="M699 723h4.800M699 725.500h4.800" stroke="#fff" stroke-width=".6"/>
<ellipse cx="701.900" cy="742.300" rx="5.700" ry="5" class="k"/><ellipse cx="701.900" cy="740" rx="2.600" ry="1.400" fill="#fff"/>
<path class="d" d="M701.900 714.500V720M701.900 729V737" style="stroke-dasharray:4 2"/>
<path class="d" d="M680 711.800L660 723M651 728.500L640.500 734.500M632 739.500L618 747.500"/>
<path class="w" d="M651.500 722.500L655.500 721L659 723.500V729L654.500 730.500L651.500 728z" style="stroke-width:1.300"/><circle cx="655.200" cy="725.500" r="1.500" class="l"/>
<path class="k" d="M633.700 735L636.500 733.500L639.700 735.500V740L637 741.500L633.700 739.500z"/><ellipse cx="636.700" cy="735.500" rx="1.500" ry=".8" fill="#fff"/>
<path class="d" d="M680 598V704.500"/>
<ellipse cx="608.200" cy="753.500" rx="3.800" ry="4.800" class="w" style="stroke-width:1.500" transform="rotate(-25 608.200 753.500)"/>
<path class="w" d="M610.500 749.500L617.500 745.500L619.500 749L612 753.500z"/>
</g>
<g id="bolt39">
<path class="w" d="M652.500 817.500H656.700V909.500L654.600 912L652.500 909.500z" style="stroke-width:.9"/>
<path class="k" d="M650 811.500L652 809.500H657.500L659.500 811.500V815L657.500 817.500H652L650 815z"/><ellipse cx="654.700" cy="811.500" rx="2" ry="1.100" fill="#fff"/>
<path class="l" d="M655.500 881h1.500"/>
<path class="d" d="M655.600 913V1150"/>
</g>
<g id="longbolt">
<path class="w" d="M745.200 763H749V828.500H745.200z" style="stroke-width:.9"/>
<path class="w" d="M744.500 828.500H749.700V853.500L747.100 858.500L744.500 853.500z" style="stroke-width:.9"/>
<path class="k" d="M742.500 758.500L744.500 756.500H750L752 758.500V761.500L750 763.500H744.500L742.500 761.500z"/><ellipse cx="747.300" cy="758.500" rx="2" ry="1" fill="#fff"/>
<path class="d" d="M747.300 860V880M747.500 914.700V960"/>
</g>
<g id="cable32">
<path d="M530 819.500C534 822 537 825 540 826.250C543 827 546 827 548.750 826.250C550.500 824 550.500 821 550 817.500C549.500 812 548 807 548.750 802.500C550 798 552 796 555 795.500C558 795 562 796 565 797.500C570 800.500 575 804 580 807.500L585 812" fill="none" stroke="#222" stroke-width="4.600"/>
<path d="M530 819.500C534 822 537 825 540 826.250C543 827 546 827 548.750 826.250C550.500 824 550.500 821 550 817.500C549.500 812 548 807 548.750 802.500C550 798 552 796 555 795.500C558 795 562 796 565 797.500C570 800.500 575 804 580 807.500L585 812" fill="none" stroke="#fff" stroke-width="2.800"/>
<path class="w" d="M511.250 815.500L516 813.500L524 815L530 817.500V821.500L524 821L515 820.500L511.500 819z" style="stroke-width:1.300"/>
<ellipse cx="515.500" cy="817" rx="2.500" ry="1.700" class="l"/><path class="k" d="M523 816.500l5 1.500v3l-5-1z"/>
<path class="k" d="M581.500 806.500l3.500-1.500 3.500 4-3 2.500z"/>
<path class="w" d="M586 810.500Q591 810 594.500 814Q597.500 819 595.500 823Q592 825.500 588.500 822Q585.500 817 586 810.500z" style="stroke-width:1.400"/>
<ellipse cx="592" cy="818.500" rx="2.200" ry="3" class="l" transform="rotate(-30 592 818.500)"/>
</g>
<g id="p41_6_29">
<path class="d" d="M798.500 748V808M803.100 744V806" style="stroke-dasharray:5 2"/>
<path class="w" d="M797.200 737.500H800.200V748H797.200z"/><path class="k" d="M796.500 737l2-2.500h3v3z"/>
<path class="w" d="M800.700 735.500Q803.500 734.500 805 737V745.500H801.500z" style="stroke-width:1.300"/>
<path class="w" d="M782.500 778.900L802 767.400L812.300 772V776.600L794 786.900V792.600L789.500 795L782.500 791z"/>
<path class="l" d="M782.500 778.900L794 784.500L812.300 774M794 784.500V792.600M802 767.400V772L806 774"/>
<path class="k" d="M782 781.500l3.500 2v7l-3.500-2zM788.500 785l2.500 1.300v7.200l-2.500-1.300z"/>
<path class="k" d="M797 781.500l3-1.500v4l-3 1.500z"/>
<path class="w" d="M793.200 813.500L802 806.500L808.400 809.200V812.200L797.500 818L793.200 816z" style="stroke-width:1.300"/>
<path class="l" d="M797 814.500L802.500 810.500M793.200 813.500L797.500 815.500L808.400 809.500"/>
</g>
<g id="sensor2">
<path class="d" d="M584.500 866.250V897.500M588.750 865V896M584.500 922.500V943.750M588.750 922V942" style="stroke-dasharray:5 2"/>
<path class="w" d="M582.500 857.500H586V866.500H582.500z"/><path class="w" d="M587.800 856.500H590.300V865H587.800z"/>
<path class="k" d="M582 857.500L586 853.500L591 854.500L590.500 857z"/>
<path class="w" d="M577.500 902.500L591.250 894.500L603.750 901.250V913.750L588.750 922.500L577.500 916.250z"/>
<path class="l" d="M577.500 902.500L589.500 909.500L603.750 901.250M589.500 909.500V922"/>
<path class="k" d="M576.500 909.500L583.500 913.500V922L576.500 918z"/><ellipse cx="580" cy="913" rx="1.500" ry="1" fill="#fff"/>
<circle cx="585.500" cy="900.500" r=".8" class="k"/><circle cx="590.500" cy="897.500" r=".8" class="k"/>
<path class="w" d="M578.750 950L591.250 942.500L595.500 945V947.500L583.750 954.500L578.750 952.500z" style="stroke-width:1.300"/>
<path class="l" d="M578.750 950L583.750 952L595.500 945.500"/><path class="k" d="M585 946.500l3-1.500 1.500 1.500-3 1.800z"/>
</g>

<!-- 70_battery.svg -->
<g id="tray28">
<!-- body -->
<path class="w" d="M655 925L679.500 909L712 890L737 875.500L749.500 880.500L755.500 876.500L769.700 884.500V888L767.500 896.500L768 899L743 913L740 918.600L698.600 942.800L694.700 941.250L672.800 954.500H663.400L648.600 945L648 935z"/>
<path class="l" d="M648 935L656 930L663 934.500V941L648.600 945M663 941L672.800 947.500H663.400M672.800 954.500V947.500L694.700 934.500V941.250M698.600 942.800V936L740 912V918.600"/>
<path class="l" d="M655.600 924.500L679 935.500L702.500 922.500M679 935.500V941M702.500 922.500V933L694.700 937"/>
<!-- left pad -->
<path class="l" d="M655.600 924L679 910L702.500 921.700L679 935z" style="stroke-width:1.200"/>
<path d="M662.700 922.500L678.300 913.900L695.500 922.500L678.300 931.900z" fill="none" stroke="#111" stroke-width="1.700"/>
<path d="M666 922.500H691M678.300 915.500V930" stroke="#111" stroke-width="1.500"/>
<ellipse cx="678.300" cy="922.500" rx="3.400" ry="2.600" class="k"/>
<!-- trough -->
<path class="l" d="M681.500 908.500L712 890.500L733.500 902L702.500 920M712 890.500V907L700.500 913.500M712 907L722.500 913M686.500 911.500L705 921" />
<path d="M683 909.500L703 920.500" stroke="#111" stroke-width="1.500" stroke-dasharray="3 1"/>
<path d="M704 919.500L733 902.500" stroke="#111" stroke-width="1.300" stroke-dasharray="2 1"/>
<!-- right pad -->
<path class="l" d="M714.200 888.900L736.900 875.600L749.400 881.100M714.200 888.900L735 900.500" style="stroke-width:1.200"/>
<path d="M722 888.900L737.700 880.300L754.800 888.900L737.700 897.500z" fill="none" stroke="#111" stroke-width="1.700"/>
<path d="M725 888.900H751.500M737.700 882V896" stroke="#111" stroke-width="1.500"/>
<ellipse cx="737.700" cy="889" rx="3.400" ry="2.600" class="k"/>
<path class="l" d="M735 900.500V912L740 915M735 900.500L757 888.500M743 903.500V910L767.500 896.500M746 899.500L765.500 889L768 891.500M751 895l3 3.500M758.500 892l2.500 3"/>
<path d="M735.500 901V912.500" stroke="#111" stroke-width="2"/>
<circle cx="741.500" cy="914.500" r="2.300" class="k"/>
<ellipse cx="747.500" cy="879.500" rx="2.300" ry="1.200" class="l"/>
<!-- front foot details -->
<path class="k" d="M659 943.500L663.500 946.500L670.500 950.500L668 952L661 948z"/>
<path d="M663 948l3.500 2" stroke="#fff" stroke-width=".8"/>
<path class="k" d="M661 935.500l5 3-1.200 1.200-4.800-2.800zM667.500 940.500l3.500 2-2 1.500z"/>
<ellipse cx="654.500" cy="934" rx="2.200" ry="1.500" class="l"/>
<path class="k" d="M696.500 936.500Q699 935.500 700.500 937.500L701 941.500Q699.500 943.500 697.500 942.500z"/>
<path class="l" d="M652 926.500Q650 928 650.500 931"/>
</g>
<g id="battery27">
<path class="w" d="M651.250 1003.750L732.500 956.250L791.250 988.750V1063.750L709.500 1111.250H705L650.750 1078.750z"/>
<path class="l" d="M651.250 1003.750L705 1034Q707.500 1035.500 709.500 1034.500L791.250 988.750M705 1034.500V1111M709.500 1034.500V1111" />
<path class="t" d="M654 1002L706.500 1031.500M712 1030L762.500 1001.500"/>
<!-- terminal L -->
<path class="w" d="M730.600 957V953.750H735V960.500L741 957.500L750 962.500V968.500L743.500 972.500H731.500V966z" style="stroke-width:1.300"/>
<path class="l" d="M735 960.500V968L743.500 968.500L750 964.500M732.500 954v12"/>
<ellipse cx="722" cy="967" rx="2.800" ry="2" class="k"/><path d="M720.500 966.500h3" stroke="#fff" stroke-width=".7"/>
<!-- post -->
<path class="w" d="M666.500 995.500L668.500 992.500H678.500L681 995.500V1007.500L676 1012.500H670.500L666.500 1008z" style="stroke-width:1.400"/>
<path class="l" d="M668.500 997.500H679V1006.500L675.500 1010H671L668.500 1006.500z" style="stroke-width:1.300"/>
<ellipse cx="673.700" cy="1000.500" rx="3" ry="2.300" class="k"/><ellipse cx="673.700" cy="1000" rx="1.200" ry=".8" fill="#fff"/>
<path d="M668 1010.500L673 1014L679 1010.500" stroke="#111" stroke-width="1.800" fill="none"/>
<path class="l" d="M669 993.500Q673.500 990.500 678.500 993.500"/>
</g>
<path class="d" d="M655.600 1004V1150"/>
<g id="p36_43">
<ellipse cx="696.250" cy="960.300" rx="2.200" ry="4.800" class="w" style="stroke-width:1.500"/>
<path class="w" d="M698.300 958H708V962.500H698.300z" style="stroke-width:1.200"/>
<path class="d" d="M709.500 960.300H731M749.400 960.300H766.600"/>
<path class="w" d="M768 956.500H772V965H768z" style="stroke-width:1.500"/><path d="M770 957v8" stroke="#111" stroke-width="1"/>
</g>
<g id="clips15">
<path class="d" d="M740 1095V1122"/>
<path class="k" d="M734 1127.500L740 1122.500L746.500 1127.500L740.500 1133.500z"/><path d="M736.500 1127.500L740 1125l3.500 2.500" stroke="#fff" stroke-width=".8" fill="none"/><ellipse cx="740.200" cy="1128.500" rx="1.500" ry="1" fill="#fff"/>
<path class="k" d="M650 1157.500L656 1152.500L662.500 1157.500L656.500 1164z"/><path d="M652.500 1157.500L656 1155l3.500 2.500" stroke="#fff" stroke-width=".8" fill="none"/><ellipse cx="656.200" cy="1158.500" rx="1.500" ry="1" fill="#fff"/>
</g>
<g id="coil31">
<g transform="rotate(-18 626 1012)">
<ellipse cx="627" cy="1012" rx="14.500" ry="16.500" class="w"/>
<ellipse cx="625" cy="1012.500" rx="12.300" ry="14.800" class="l"/>
<ellipse cx="623" cy="1013" rx="10" ry="13" class="l"/>
<ellipse cx="621" cy="1013.500" rx="7.800" ry="11" class="l"/>
<ellipse cx="619.500" cy="1014" rx="5.600" ry="8.500" class="l" style="stroke-width:1.300"/>
<ellipse cx="619" cy="1014.500" rx="3" ry="6" class="l"/>
</g>
<path d="M616 1009.500C611 1013 607 1019 604.500 1024C603 1027 602.500 1030 602 1033" fill="none" stroke="#222" stroke-width="4"/>
<path d="M616 1009.500C611 1013 607 1019 604.500 1024C603 1027 602.500 1030 602 1033" fill="none" stroke="#fff" stroke-width="2.200"/>
<path class="k" d="M601.500 1029.500l4 1.500-1 3.500-4-1.500z"/>
<path class="w" d="M598 1036.500Q600.500 1033.500 604 1035.500V1040.500Q602 1043.500 598.500 1042z" style="stroke-width:1.500"/>
<path class="k" d="M634.500 997l5.500-4.500 2 2.500-5.500 4.500z"/>
<path class="w" d="M641 991.500L647 986.500Q650.500 986 651.500 989L645.500 994.500Q642 995 641 991.500z" style="stroke-width:1.500"/>
<ellipse cx="647.500" cy="989.500" rx="2" ry="1.300" class="l" transform="rotate(-35 647.500 989.500)"/>
<path class="l" d="M622 1003l7 14M625.500 1003l4.500 9"/>
</g>
<g id="coil33">
<g transform="rotate(-8 832 963)">
<ellipse cx="830" cy="963" rx="17.300" ry="19.500" class="w"/>
<ellipse cx="833" cy="963.300" rx="17" ry="18.300" class="l"/>
<ellipse cx="836.500" cy="963.700" rx="16" ry="17" class="l"/>
<ellipse cx="839" cy="964" rx="13.500" ry="15" class="l"/>
<ellipse cx="839.500" cy="964" rx="8.500" ry="12.500" class="l" style="stroke-width:1.300"/>
<ellipse cx="838.500" cy="964" rx="5.300" ry="10.300" class="l"/>
</g>
<path d="M841 955.600C850 959 860 964 868.500 969.400C873 973 877 978 880 983" fill="none" stroke="#222" stroke-width="4.600"/>
<path d="M841 955.600C850 959 860 964 868.500 969.400C873 973 877 978 880 983" fill="none" stroke="#fff" stroke-width="2.800"/>
<path class="k" d="M870.500 970.500l3.500-2.500 3 4-3.500 2.500z"/>
<path class="w" d="M876.500 980L881 977Q885 979 884.500 984L882 988.500Q878 989 876.500 985z" style="stroke-width:1.500"/>
<ellipse cx="881" cy="983.500" rx="1.700" ry="2.600" class="l"/>
<path class="w" d="M794 948.500Q797 945.500 801.500 947.500L806 950.500L804 954L798 953.500Q794 952 794 948.500z" style="stroke-width:1.500"/>
<ellipse cx="798.500" cy="949.800" rx="2.300" ry="1.600" class="l"/>
<path class="k" d="M805 950.500l5 2-1 3-5-1.500z"/>
<path class="l" d="M810 953l6 3.500M809.500 955.500l5 3"/>
</g>
<g id="p5">
<path class="k" d="M554.600 1067.600L562.300 1066.500L572.800 1081.600L571.600 1087.500L566 1092.500L562 1090.400L553.500 1081.600L554 1073.400z"/>
<path class="w" d="M562.800 1068.700L567 1065.800Q570 1065.500 572 1067.500L577.500 1075.800Q578 1079 572.800 1081.600L562.800 1072.300z" style="stroke-width:1.400"/>
<path class="l" d="M567.500 1072.500L572.500 1070"/>
<path d="M554.800 1079.800L557.200 1080.500L564.200 1088.100L562.300 1090.300L554 1083z" fill="#fff" stroke="#111" stroke-width="1.200"/>
<path d="M559 1072.500L570.500 1084.500" stroke="#fff" stroke-width="1"/>
<circle cx="565.500" cy="1087" r="1" fill="#fff"/>
<path class="k" d="M554.600 1064L557.500 1062L560 1063.500L562.300 1063V1067L558 1068.500L554.600 1066.500zM551 1071.500L553.500 1070L556.400 1071.500V1074.600L553 1075.500z"/>
<path class="w" d="M575 1083L579 1081.600L581.500 1083.500L579 1086.500L575.500 1086z" style="stroke-width:1.500"/>
<path class="w" d="M572.800 1088.500L578.500 1086.500L581.500 1089L576.500 1092.500z" style="stroke-width:1.500"/>
<path class="w" d="M564.500 1091.500L569 1089.500L570.500 1092.500L566.500 1094.500z" style="stroke-width:1.300"/>
</g>
<g id="bracketL">
<path class="d" d="M470 911V929.500M470 954.500V973" style="stroke-dasharray:6 2"/>
<rect x="467.500" y="930.500" width="5.200" height="23.500" rx="1.500" class="w"/>
<path class="w" d="M453.100 974.200L471.900 963.300L495.300 975V996L478 987.500L475 986.700L473.400 991.400L469.500 1004.700V1029.700H462.500L450 1023.400L446.900 1018.750L448.400 993.750z"/>
<path class="l" d="M453.100 975.800L475 986.700L495.300 975M448.400 993.750L469.500 1004.700"/>
<path d="M475 986.500L495 975.500M473.400 991.400L470 1003" stroke="#111" stroke-width="1.700" fill="none"/>
<path class="w" d="M465.500 976L470.500 974.500L474.500 977L472.500 980L467.500 979.500z" style="stroke-width:1.300"/>
<path class="w" d="M448.500 1023L455.500 1017.500Q459 1016.500 460.500 1019L458.500 1023L451.500 1025.500z" style="stroke-width:1.200"/>
<path class="d" d="M495.300 975L509.400 981.250" style="stroke-dasharray:4 2"/>
<path class="k" d="M500.500 983L503.500 980.500H509L512 983.500V988L509 990.500H503.500L500.500 988z"/><ellipse cx="506" cy="983.500" rx="2.500" ry="1.300" fill="#fff"/><path d="M502 987h8" stroke="#fff" stroke-width=".7"/>
<path class="w" d="M503.800 991H507.300V1000H503.800z"/>
<path class="l" d="M512.500 983v5.500"/>
<path class="d" d="M469.800 1030V1037M469.800 1047V1051M469.800 1063V1068" style="stroke-dasharray:4 2"/>
<ellipse cx="469.800" cy="1042.200" rx="5.300" ry="3.300" class="w" style="stroke-width:1.500"/><ellipse cx="469.800" cy="1042" rx="2" ry="1.100" class="l"/>
<path class="k" d="M466.300 1052.500H473.300V1061.500H466.300z"/><path d="M467.300 1055.500h5M467.300 1058.500h5" stroke="#fff" stroke-width=".6"/>
<ellipse cx="469.800" cy="1073.400" rx="5.300" ry="4.300" class="k"/><ellipse cx="469.800" cy="1072" rx="2.300" ry="1.300" fill="#fff"/>
</g>

<!-- 90_labels.svg -->
<g id="labels" text-anchor="middle">
<text x="366.6" y="144.5">21</text>
<text x="520.5" y="347.5">18</text>
<text x="546.0" y="268.8">13</text>
<text x="537.8" y="308.8">24</text>
<text x="207.5" y="382.5">20</text>
<text x="262.2" y="435.0">22</text>
<text x="323.0" y="416.8">19</text>
<text x="376.2" y="487.5">12</text>
<text x="751.0" y="121.2">16</text>
<text x="827.0" y="230.8">11</text>
<text x="745.4" y="340.0">9</text>
<text x="744.0" y="363.0">23</text>
<text x="225.2" y="518.8">25</text>
<text x="158.0" y="560.0">34</text>
<text x="248.0" y="587.0">7</text>
<text x="207.0" y="638.0">17</text>
<text x="360.0" y="633.0">44</text>
<text x="135.0" y="715.0">4</text>
<text x="403.0" y="539.5">3</text>
<text x="377.8" y="602.0">40</text>
<text x="428.8" y="766.2">26</text>
<text x="432.4" y="795.8">2</text>
<text x="426.6" y="818.2">42</text>
<text x="330.4" y="808.0">8</text>
<text x="105.6" y="820.5">30</text>
<text x="586.0" y="570.5">35</text>
<text x="567.2" y="601.2">46</text>
<text x="583.4" y="626.2">14</text>
<text x="575.4" y="653.8">43</text>
<text x="610.9" y="683.8">43</text>
<text x="727.8" y="594.0">38</text>
<text x="782.5" y="698.0">10</text>
<text x="634.8" y="791.2">45</text>
<text x="656.2" y="799.5">46</text>
<text x="606.8" y="803.8">37</text>
<text x="702.0" y="822.5">39</text>
<text x="517.8" y="778.0">32</text>
<text x="846.3" y="742.8">41</text>
<text x="851.0" y="780.0">6</text>
<text x="851.5" y="817.2">29</text>
<text x="811.3" y="894.8">28</text>
<text x="888.6" y="956.0">33</text>
<text x="774.8" y="1009.5">43</text>
<text x="702.8" y="1009.2">36</text>
<text x="834.0" y="1031.0">27</text>
<text x="623.5" y="1082.2">5</text>
<text x="792.5" y="1134.5">15</text>
<text x="564.4" y="1013.9">31</text>
<text x="399.8" y="710.5">1</text>
</g>
<path class="ld" d="M367.0 100.0V132.0M472.5 343.8H508.8M558.2 264.5H608.8M551.2 300.8H606.2M209.5 388.0V431.0M265.0 438.0V473.8M324.5 418.0V452.5M376.8 430.0V472.0M700.0 113.5H739.5M763.8 113.5H786.2M786.2 113.5V388.0M786.2 225.5H813.8M716.0 388.0H786.2M675.0 333.0H737.5M753.2 333.0H786.2M677.5 360.0H733.8M755.0 360.0H786.2M236.2 513.2H278.8M171.2 555.5H216.2M255.0 581.8H292.5M220.0 633.8H262.0M312.5 628.8H352.0M313.8 595.8H365.5M360.0 535.8H395.0M141.2 710.5H200.0M200.0 653.8V762.0M200.0 653.8H262.0M200.0 730.8H255.0M200.0 762.0H248.8M355.9 705.8H393.0M375.0 759.2H418.8M378.8 791.8H422.0M376.2 814.5H418.0M290.0 803.5H325.5M106.8 826.2V863.8M595.0 565.5H631.2M578.0 597.5H630.0M592.0 618.8H631.2M584.5 647.5H628.8M620.0 677.0H662.5M684.2 589.2H715.0M723.8 693.8H769.5M637.5 740.0V778.8M656.2 731.2V786.2M606.8 757.5V791.2M658.8 816.2H692.5M519.7 782.0V812.8M806.5 737.5H834.0M812.3 775.9H846.7M808.4 811.7H839.1M769.8 889.7H798.5M844.4 951.0H876.6M772.1 968.2V998.0M701.8 965.0V996.2M792.0 1025.5H820.0M579.2 1076.4H616.7M750.0 1129.2H778.8M579.2 1007.7H611.2"/>
</svg>
</body></html>
